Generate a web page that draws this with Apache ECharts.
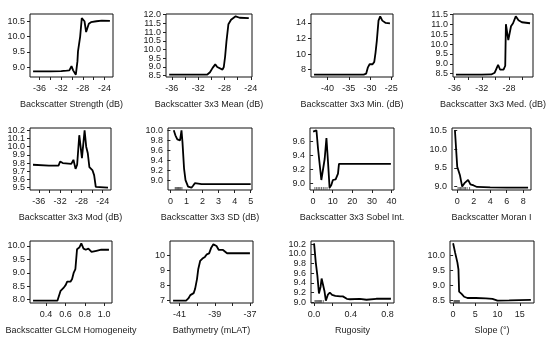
<!DOCTYPE html>
<html><head><meta charset="utf-8">
<script src="https://cdn.jsdelivr.net/npm/echarts@6/dist/echarts.min.js"></script>
<style>html,body{margin:0;padding:0;background:#fff}#c{width:550px;height:343px}</style>
</head><body><div id="c"></div>
<script>
// ---- data ----
const strengthX = [-37.2,-36,-34,-32,-31,-30.5,-30.1,-29.8,-29.3,-29.0,-28.9,-28.7,-28.5,-28.2,-28.0,-27.7,-27.4,-27.1,-26.9,-26.5,-25.5,-24.5,-23.0];
const strengthY = [8.87,8.87,8.87,8.875,8.89,8.9,9.04,8.9,8.76,9.2,9.52,9.5,10.0,10.6,10.66,10.5,10.15,10.15,10.42,10.47,10.5,10.52,10.51];
const meanX = [-36.4,-34,-32,-30.6,-30.2,-29.8,-29.4,-29.1,-28.9,-28.3,-28.1,-27.9,-27.7,-27.4,-27.0,-26.3,-25.7,-24.3];
const meanY = [8.56,8.56,8.56,8.57,8.7,8.95,9.15,9.0,8.9,8.85,9.0,9.6,10.45,11.45,11.7,11.9,11.82,11.8];
const minX = [-43.2,-40,-35,-31.5,-30.9,-30.5,-30.1,-29.4,-29.0,-28.7,-28.4,-28.0,-27.6,-27.1,-26.3,-25.3];
const minY = [7.36,7.36,7.36,7.37,7.5,8.3,8.7,8.7,9.0,10.2,11.7,14.3,14.85,14.3,14.0,13.95];
const medX = [-35.8,-34,-32,-30.6,-30.1,-29.6,-29.3,-28.8,-28.55,-28.45,-28.1,-28.0,-27.7,-27.4,-27.0,-26.6,-26.1,-24.9];
const medY = [8.45,8.45,8.45,8.46,8.55,8.95,8.7,8.7,8.9,11.0,10.2,10.25,10.9,11.05,11.4,11.2,11.1,11.05];
const modX = [-37.1,-34.1,-32.3,-32.0,-31.5,-29.9,-29.5,-29.1,-28.8,-28.4,-27.9,-27.4,-27.1,-26.8,-26.5,-25.9,-25.6,-25.3,-25.0,-23.0];
const modY = [9.78,9.77,9.77,9.82,9.80,9.79,9.84,9.73,9.78,10.14,9.86,10.2,10.0,9.92,9.75,9.71,9.65,9.51,9.5,9.5];
const sdX = [0.21,0.31,0.37,0.43,0.52,0.6,0.69,0.75,0.85,0.94,1.1,1.31,1.41,1.52,1.62,1.94,3,4,5.0];
const sdY = [10.0,9.9,9.87,9.82,9.85,9.8,10.0,9.77,9.24,9.01,8.88,8.86,8.9,8.95,8.94,8.93,8.93,8.93,8.93];
const sobelX = [0,0.85,1.7,2.5,4.2,5.9,6.8,7.6,8.4,9.3,10.1,11.5,12.7,13.2,20,30,39.7];
const sobelY = [9.74,9.755,9.76,9.5,9.05,9.35,9.65,9.31,8.94,8.98,9.05,9.06,9.14,9.28,9.28,9.28,9.28];
const moranX = [-0.28,-0.12,0,0.32,0.6,0.88,1.12,1.32,1.6,2.0,2.4,4.0,6,8.6];
const moranY = [10.5,10.47,9.53,9.31,9.0,9.09,9.09,9.18,9.06,9.03,8.99,8.98,8.97,8.97];
const glcmX = [0.265,0.4,0.517,0.534,0.55,0.585,0.602,0.618,0.652,0.669,0.686,0.703,0.72,0.743,0.764,0.787,0.81,0.837,0.87,0.92,0.97,1.05];
const glcmY = [7.96,7.96,7.96,8.03,8.33,8.46,8.54,8.67,8.67,8.77,9.01,9.14,9.88,9.94,10.1,9.9,9.86,9.9,9.78,9.82,9.86,9.86];
const bathyX = [-41.37,-40.63,-40.5,-40.39,-40.2,-40.12,-40.01,-39.94,-39.83,-39.7,-39.56,-39.45,-39.32,-39.2,-39.08,-39.0,-38.9,-38.77,-38.53,-38.45,-38.3,-37.0];
const bathyY = [7.0,7.0,7.15,7.37,7.5,7.77,8.43,9.08,9.63,9.79,9.9,10.07,10.13,10.51,10.73,10.8,10.62,10.36,10.36,10.34,10.14,10.14];
const rugoX = [0,0.018,0.036,0.053,0.071,0.082,0.1,0.114,0.128,0.149,0.171,0.196,0.231,0.285,0.313,0.356,0.39,0.498,0.57,0.676,0.836];
const rugoY = [10.22,9.83,9.55,9.18,9.32,9.49,9.49,9.22,9.03,9.15,9.2,9.15,9.13,9.12,9.12,9.07,9.06,9.07,9.05,9.07,9.07];
const slopeX = [0,0.45,0.97,1.2,1.35,1.96,2.48,3.22,5.1,7.36,8.85,9.98,12.6,14.9,17.5];
const slopeY = [10.4,10.09,9.76,9.54,8.8,8.72,8.63,8.59,8.59,8.58,8.56,8.5,8.51,8.52,8.53];

// deciles rug
const sdRug = [0.3,0.35,0.4,0.45,0.5,0.55,0.6,0.65,0.72];
const sobelRug = [0.9,1.8,2.6,3.4,4.3,5.2,6.1,7.1,8.3];
const moranRug = [0.1,0.25,0.4,0.55,0.7,0.85,1.0,1.2,1.5];
const rugoRug = [0.01,0.02,0.03,0.04,0.05,0.06,0.07,0.08,0.1];
const slopeRug = [0.2,0.35,0.5,0.65,0.8,0.95,1.1,1.25,1.4];

// axis labels / ticks
const titles = ['Backscatter Strength (dB)','Backscatter 3x3 Mean (dB)','Backscatter 3x3 Min. (dB)','Backscatter 3x3 Med. (dB)',
  'Backscatter 3x3 Mod (dB)','Backscatter 3x3 SD (dB)','Backscatter 3x3 Sobel Int.','Backscatter Moran I',
  'Backscatter GLCM Homogeneity','Bathymetry (mLAT)','Rugosity','Slope (°)'];
const xTicks = [[-36,-34,-32,-30,-28,-26,-24],[-36,-34,-32,-30,-28,-26,-24],[-40,-35,-30,-25],[-36,-34,-32,-30,-28,-26],
  [-36,-34,-32,-30,-28,-26,-24],[0,1,2,3,4,5],[0,10,20,30,40],[0,2,4,6,8],
  [0.4,0.6,0.8,1.0],[-41,-40,-39,-38,-37],[0,0.2,0.4,0.6,0.8],[0,5,10,15]];
const xLabels = [[-36,-32,-28,-24],[-36,-32,-28,-24],[-40,-35,-30,-25],[-36,-32,-28],
  [-36,-32,-28,-24],[0,1,2,3,4,5],[0,10,20,30,40],[0,2,4,6,8],
  [0.4,0.6,0.8,1.0],[-41,-39,-37],[0,0.4,0.8],[0,5,10,15]];
const yTicks = [[9,9.5,10,10.5],[8.5,9,9.5,10,10.5,11,11.5,12],[8,10,12,14],[8.5,9,9.5,10,10.5,11,11.5],
  [9.5,9.6,9.7,9.8,9.9,10,10.1,10.2],[9,9.2,9.4,9.6,9.8,10],[9,9.2,9.4,9.6],[9,9.5,10,10.5],
  [8,8.5,9,9.5,10],[7,8,9,10],[9,9.2,9.4,9.6,9.8,10,10.2],[8.5,9,9.5,10]];
const xDec = [0,0,0,0,0,0,0,0,1,0,1,0];
const yDec = [1,1,0,1,1,1,1,1,1,0,1,1];

const seriesX = [strengthX,meanX,minX,medX,modX,sdX,sobelX,moranX,glcmX,bathyX,rugoX,slopeX];
const seriesY = [strengthY,meanY,minY,medY,modY,sdY,sobelY,moranY,glcmY,bathyY,rugoY,slopeY];
const rugs = [null,null,null,null,null,sdRug,sobelRug,moranRug,null,null,rugoRug,slopeRug];

// layout (px): left, top, width, height
const layout = [[30,14,83,63],[166,14,86,63],[311,14,82,63],[453,14,80,63],
  [30,128,81,62],[168,128,84,62],[310,128,84,62],[452,128,79,62],
  [30,241,82,62],[170,241,83,62],[311,241,83,62],[450,241,84,62]];

const FONT = "'Liberation Sans', Arial, sans-serif";
const grids=[], xAxes=[], yAxes=[], series=[];
function padRange(a){const mn=Math.min(...a), mx=Math.max(...a), p=(mx-mn)*0.04; return [mn-p, mx+p];}
function yAxisDef(i, yr, labels, withTicks){
  return {type:'value', gridIndex:i, min:yr[0], max:yr[1], position:'left', offset:0,
    axisLine:{show:false}, splitLine:{show:false},
    axisTick:{show:withTicks, length:3, lineStyle:{color:'#222', width:1}, customValues:yTicks[i]},
    axisLabel:{fontFamily:FONT, fontSize:9, color:'#222', margin:5, customValues:labels,
      showMinLabel:true, showMaxLabel:true, hideOverlap:false,
      formatter:(v)=>Number(v).toFixed(yDec[i])}};
}
for (let i=0;i<12;i++){
  const L = layout[i];
  grids.push({left:L[0], top:L[1], width:L[2], height:L[3], show:true, borderColor:'#111', borderWidth:1, backgroundColor:'transparent'});
  let xr = padRange(seriesX[i]);
  if (i===5) xr = [-0.15, 5.08];
  const yr = padRange(seriesY[i]);
  xAxes.push({type:'value', gridIndex:i, min:xr[0], max:xr[1],
    name:titles[i], nameLocation:'middle', nameGap:23,
    nameTextStyle:{fontFamily:FONT, fontSize:9, color:'#222'},
    axisLine:{show:false}, splitLine:{show:false},
    axisTick:{show:true, length:3, lineStyle:{color:'#222', width:1}, customValues:xTicks[i]},
    axisLabel:{fontFamily:FONT, fontSize:9, color:'#222', margin:7, customValues:xLabels[i],
      showMinLabel:true, showMaxLabel:true, hideOverlap:false,
      formatter:(v)=>Number(v).toFixed(xDec[i])}});
  const evenL = yTicks[i].filter((v,k)=>k%2===0);
  const oddL = yTicks[i].filter((v,k)=>k%2===1);
  yAxes.push(yAxisDef(i, yr, evenL, true));
  yAxes.push(yAxisDef(i, yr, oddL, false));
  series.push({type:'line', xAxisIndex:i, yAxisIndex:2*i, showSymbol:false, silent:true, animation:false,
    lineStyle:{color:'#000', width:1.8}, data:seriesX[i].map((x,k)=>[x,seriesY[i][k]])});
  if (rugs[i]) {
    series.push({type:'scatter', xAxisIndex:i, yAxisIndex:2*i, silent:true, animation:false,
      symbol:'rect', symbolSize:[1,3], symbolOffset:[0,-1.5], itemStyle:{color:'#444'},
      data:rugs[i].map(x=>[x,yr[0]])});
  }
}
const chart = echarts.init(document.getElementById('c'), null, {renderer:'canvas'});
chart.setOption({animation:false, backgroundColor:'#fff', grid:grids, xAxis:xAxes, yAxis:yAxes, series:series});
</script></body></html>
